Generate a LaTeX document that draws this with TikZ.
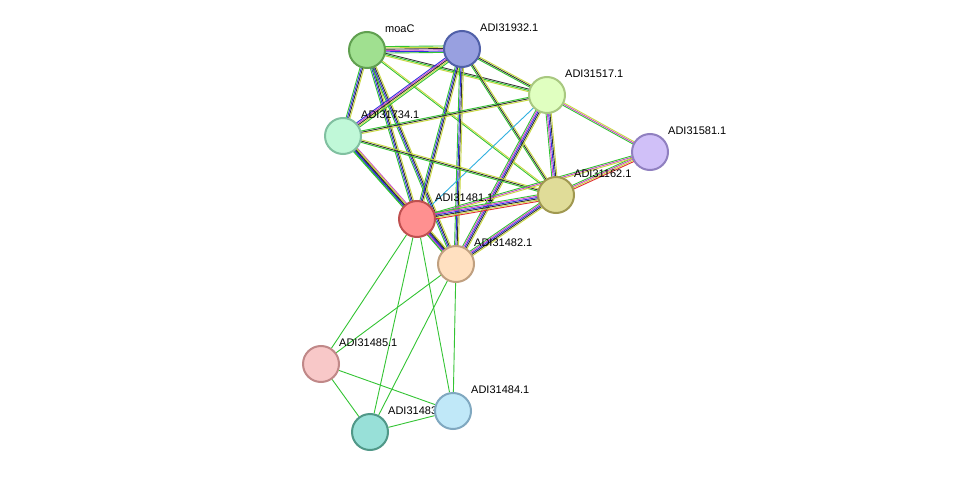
\documentclass[tikz,border=0pt]{standalone}
\usepackage{fontspec}
\setmainfont{Liberation Sans}
\usetikzlibrary{calc,backgrounds}
\definecolor{eg}{HTML}{33C433}
\definecolor{eb}{HTML}{3030E0}
\definecolor{em}{HTML}{CC44CC}
\definecolor{ek}{HTML}{303030}
\definecolor{ey}{HTML}{C8D840}
\definecolor{ec}{HTML}{30B0E0}
\definecolor{er}{HTML}{E03030}
\definecolor{f1}{HTML}{A0E090}\definecolor{b1}{HTML}{60A050}
\definecolor{f2}{HTML}{98A0E0}\definecolor{b2}{HTML}{5060A8}
\definecolor{f3}{HTML}{E0FFC0}\definecolor{b3}{HTML}{A8C880}
\definecolor{f4}{HTML}{C0F8D8}\definecolor{b4}{HTML}{80C0A0}
\definecolor{f5}{HTML}{D0C0F8}\definecolor{b5}{HTML}{9080C0}
\definecolor{f6}{HTML}{E0DC98}\definecolor{b6}{HTML}{A09850}
\definecolor{f7}{HTML}{FF9090}\definecolor{b7}{HTML}{C05050}
\definecolor{f8}{HTML}{FFE0C0}\definecolor{b8}{HTML}{C0A080}
\definecolor{f9}{HTML}{F8C8C8}\definecolor{b9}{HTML}{C08888}
\definecolor{f10}{HTML}{C0E8F8}\definecolor{b10}{HTML}{80A8C0}
\definecolor{f11}{HTML}{98E0D8}\definecolor{b11}{HTML}{509888}
\newcommand\medge[4]{\foreach \c [count=\i] in {#4}{\pgfmathsetmacro\o{(\i-1-(#3-1)/2)*1.3}\draw[draw=\c,line width=0.9pt] ($(#1)!\o pt!90:(#2)$) -- ($(#2)!\o pt!-90:(#1)$);}}
\tikzset{prot/.style={circle,minimum size=36pt,inner sep=0pt,line width=2pt,fill=f#1,draw=b#1},
 lab/.style={anchor=west,font=\fontsize{11}{13}\selectfont,inner sep=0pt}}
\begin{document}
\begin{tikzpicture}[x=1pt,y=-1pt]
\useasboundingbox (0,0) rectangle (976,478);
\foreach \n/\x/\y/\t/\k in {moaC/367/50/moaC/1,a932/462/49/ADI31932.1/2,a517/547/95/ADI31517.1/3,a734/343/136/ADI31734.1/4,a581/650/152/ADI31581.1/5,a162/556/195/ADI31162.1/6,a481/417/219/ADI31481.1/7,a482/456/264/ADI31482.1/8,a485/321/364/ADI31485.1/9,a483/370/432/ADI31483.1/11,a484/453/411/ADI31484.1/10}{
  \node[lab] (l\n) at (\x+18,\y-21) {\t};
  \node[prot=\k] (\n) at (\x,\y) {};}
\begin{pgfonlayer}{background}
\fill[white] (0,0) rectangle (976,478);
\medge{moaC}{a932}{6}{eg,eb,em,ek,ey,eg}
\medge{moaC}{a734}{4}{eg,eb,ek,ey}
\medge{moaC}{a481}{4}{eg,eb,ek,ey}
\medge{moaC}{a482}{4}{eg,eb,ek,ey}
\medge{moaC}{a517}{3}{ey,eg,ek}
\medge{moaC}{a162}{2}{eg,ey}
\medge{a932}{a734}{5}{eb,em,ek,ey,eg}
\medge{a932}{a517}{3}{eg,ek,ey}
\medge{a932}{a481}{4}{eg,eb,ek,ey}
\medge{a932}{a482}{4}{eg,eb,ek,ey}
\medge{a932}{a162}{3}{eg,ek,ey}
\medge{a517}{a734}{3}{eg,ek,ey}
\medge{a517}{a581}{3}{eg,em,ey}
\medge{a517}{a162}{5}{eg,em,eb,ek,ey}
\medge{a517}{a481}{1}{ec}
\medge{a517}{a482}{5}{eg,em,eb,ek,ey}
\medge{a734}{a162}{3}{eg,ek,ey}
\medge{a734}{a481}{5}{eg,eb,ek,ey,em}
\medge{a734}{a482}{4}{eg,eb,ek,ey}
\medge{a581}{a162}{4}{eg,em,ey,er}
\medge{a581}{a481}{3}{eg,em,ey}
\medge{a162}{a481}{6}{eg,em,eb,ek,ey,er}
\medge{a162}{a482}{5}{eg,em,eb,ek,ey}
\medge{a481}{a482}{5}{eg,em,eb,ek,ey}
\foreach \a/\b in {a481/a485,a481/a483,a481/a484,a482/a485,a482/a483,a482/a484,a485/a483,a485/a484,a483/a484}
  \draw[eg,line width=0.9pt] (\a) -- (\b);
\end{pgfonlayer}
\end{tikzpicture}
\end{document}
